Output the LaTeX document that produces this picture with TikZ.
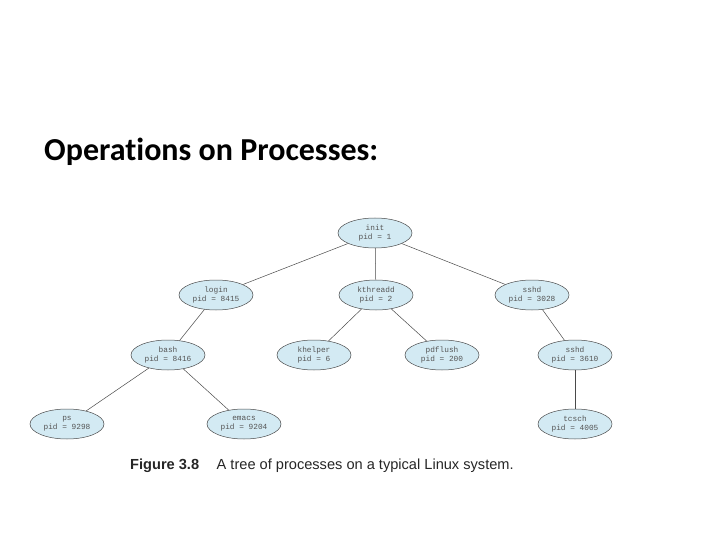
\documentclass[tikz,border=0pt]{standalone}
\usepackage{fontspec}
\setmainfont{Liberation Sans}
\newfontfamily\titlefont[Ligatures=NoCommon]{Carlito}
\setmonofont{Liberation Mono}
\usetikzlibrary{shapes.geometric}
\definecolor{procfill}{HTML}{D3EAF3}
\definecolor{procline}{HTML}{4A4A4A}
\definecolor{proctext}{HTML}{555555}
\tikzset{
  proc/.style={ellipse, draw=procline, line width=0.5pt, fill=procfill,
    minimum width=74pt, minimum height=30pt, inner sep=0pt,
    font=\ttfamily\fontsize{7.8}{8.8}\selectfont, text=proctext, align=center},
  link/.style={draw=procline, line width=0.5pt}
}
\begin{document}
\begin{tikzpicture}[x=1pt,y=-1pt]
\useasboundingbox (0,0) rectangle (720,540);
\node[anchor=west, inner sep=0pt, font=\titlefont\bfseries\fontsize{32}{36}\selectfont] (title) at (44,152) {Operations on Processes:};
\node[proc] (init) at (375,233) {init\\pid = 1};
\node[proc] (login) at (216,295) {login\\pid = 8415};
\node[proc] (kthreadd) at (376,295) {kthreadd\\pid = 2};
\node[proc] (sshd) at (532,295) {sshd\\pid = 3028};
\node[proc] (bash) at (168,355) {bash\\pid = 8416};
\node[proc] (khelper) at (314,355) {khelper\\pid = 6};
\node[proc] (pdflush) at (442,355) {pdflush\\pid = 200};
\node[proc] (sshdb) at (575,355) {sshd\\pid = 3610};
\node[proc] (ps) at (67,424) {ps\\pid = 9298};
\node[proc] (emacs) at (244,424) {emacs\\pid = 9204};
\node[proc] (tcsch) at (575,424) {tcsch\\pid = 4005};
\draw[link] (init) -- (login);
\draw[link] (init) -- (kthreadd);
\draw[link] (init) -- (sshd);
\draw[link] (login) -- (bash);
\draw[link] (kthreadd) -- (khelper);
\draw[link] (kthreadd) -- (pdflush);
\draw[link] (sshd) -- (sshdb);
\draw[link] (bash) -- (ps);
\draw[link] (bash) -- (emacs);
\draw[link] (sshdb) -- (tcsch);
\node[anchor=west, inner sep=0pt, font=\fontsize{14.6}{16}\selectfont, text=black!85] (caption) at (130,466) {\textbf{Figure 3.8}\hspace{1.2em}A tree of processes on a typical Linux system.};
\end{tikzpicture}
\end{document}
